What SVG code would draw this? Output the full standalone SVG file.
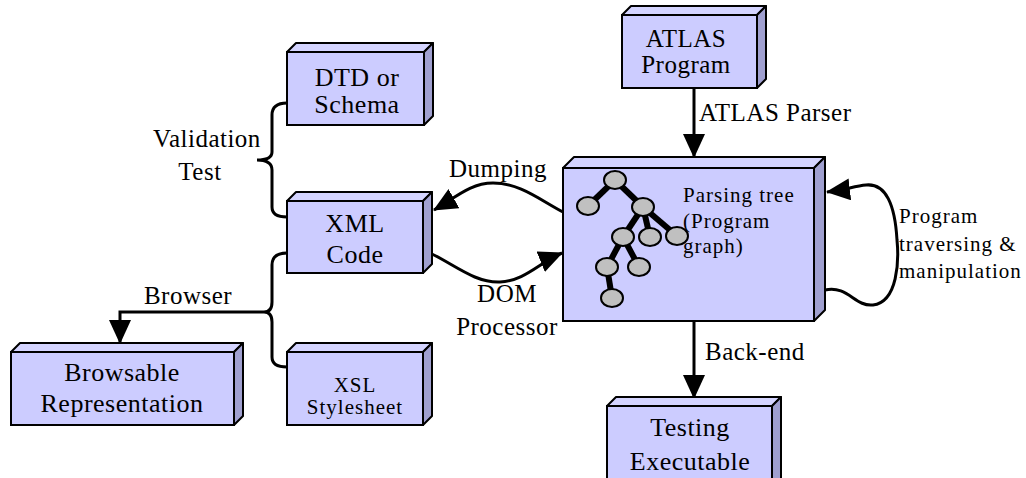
<svg xmlns="http://www.w3.org/2000/svg" width="1026" height="478" viewBox="0 0 1026 478">
<style>
.front{fill:#ccccff;stroke:#000;stroke-width:2}
.top{fill:#d4d4ff;stroke:#000;stroke-width:2;stroke-linejoin:round}
.side{fill:#a0a0d0;stroke:#000;stroke-width:2;stroke-linejoin:round}
.bt{font-size:26px;text-anchor:middle;letter-spacing:0.5px}
.lb{font-size:25px;letter-spacing:0.5px}
.sm{font-size:21px;letter-spacing:1px}
.conn{fill:none;stroke:#000;stroke-width:3}
.edge{stroke:#000;stroke-width:6;stroke-linecap:butt}
.tn{fill:#c0c0c0;stroke:#000;stroke-width:2}
</style>
<defs>
<marker id="ah" markerUnits="userSpaceOnUse" markerWidth="24" markerHeight="22" refX="23" refY="11" orient="auto">
<path d="M0,0 L24,11 L0,22 Z" fill="#000"/>
</marker>
</defs>
<rect width="1026" height="478" fill="#fff"/>

<g id="connectors">
<path class="conn" d="M287,103 C278,103 272,106 272,115 L272,152 C272,158 266,160 257,160 C266,160 272,163 272,170 L272,207 C272,214 278,217 287,217"/>
<path class="conn" d="M287,253 C278,253 272,256 272,265 L272,302 C272,308 270,312 264,312 C270,312 272,316 272,322 L272,357 C272,364 278,367 287,367"/>
<path class="conn" d="M264,312 L120,312 L120,343" marker-end="url(#ah)"/>
<path class="conn" d="M694,88 L694,157" marker-end="url(#ah)"/>
<path class="conn" d="M694,321 L694,398" marker-end="url(#ah)"/>
<path class="conn" d="M563,212 C540,200 520,183 493,183 C470,183 455,198 434,210" marker-end="url(#ah)"/>
<path class="conn" d="M430,253 C455,265 475,283 500,282 C525,281 540,262 562,253" marker-end="url(#ah)"/>
<path class="conn" d="M825,290 C848,285 855,307 873,305 C898,302 899,260 897,240 C895,205 886,183 866,185 C855,186 844,190 827,192" marker-end="url(#ah)"/>
</g>

<g font-family="Liberation Serif, Times New Roman, serif">
<g id="dtd">
<polygon class="top" points="287,52 296,43 433,43 424,52"/>
<polygon class="side" points="424,52 433,43 433,116 424,125"/>
<rect class="front" x="287" y="52" width="137" height="73"/>
<text class="bt" x="357" y="86">DTD or</text>
<text class="bt" x="357" y="113">Schema</text>
</g>

<g id="xml">
<polygon class="top" points="287,201 296,192 432,192 423,201"/>
<polygon class="side" points="423,201 432,192 432,264 423,273"/>
<rect class="front" x="287" y="201" width="136" height="72"/>
<text class="bt" x="355" y="232">XML</text>
<text class="bt" x="355" y="263">Code</text>
</g>

<g id="xsl">
<polygon class="top" points="287,352 296,343 432,343 423,352"/>
<polygon class="side" points="423,352 432,343 432,416 423,425"/>
<rect class="front" x="287" y="352" width="136" height="73"/>
<text x="355" y="392" font-size="21" text-anchor="middle" letter-spacing="1">XSL</text>
<text x="355" y="414" font-size="21" text-anchor="middle" letter-spacing="1">Stylesheet</text>
</g>

<g id="browsable">
<polygon class="top" points="11,352 20,343 243,343 234,352"/>
<polygon class="side" points="234,352 243,343 243,416 234,425"/>
<rect class="front" x="11" y="352" width="223" height="73"/>
<text class="bt" x="122" y="381">Browsable</text>
<text class="bt" x="122" y="412">Representation</text>
</g>

<g id="atlas">
<polygon class="top" points="622,15 631,6 766,6 757,15"/>
<polygon class="side" points="757,15 766,6 766,79 757,88"/>
<rect class="front" x="622" y="15" width="135" height="73"/>
<text x="686" y="47" font-size="25" text-anchor="middle" letter-spacing="0.5">ATLAS</text>
<text x="686" y="73" font-size="25" text-anchor="middle" letter-spacing="0.5">Program</text>
</g>

<g id="parsing">
<polygon class="top" points="563,168 574,157 825,157 814,168"/>
<polygon class="side" points="814,168 825,157 825,310 814,321"/>
<rect class="front" x="563" y="168" width="251" height="153"/>
<g>
<line class="edge" x1="615" y1="180" x2="588" y2="206"/>
<line class="edge" x1="615" y1="180" x2="643" y2="207"/>
<line class="edge" x1="643" y1="207" x2="623" y2="237"/>
<line class="edge" x1="643" y1="207" x2="650" y2="237"/>
<line class="edge" x1="643" y1="207" x2="677" y2="236"/>
<line class="edge" x1="623" y1="237" x2="607" y2="267"/>
<line class="edge" x1="623" y1="237" x2="639" y2="267"/>
<line class="edge" x1="607" y1="267" x2="612" y2="298"/>
<ellipse class="tn" cx="615" cy="180" rx="11" ry="9"/>
<ellipse class="tn" cx="588" cy="206" rx="11" ry="9"/>
<ellipse class="tn" cx="643" cy="207" rx="11" ry="9"/>
<ellipse class="tn" cx="623" cy="237" rx="11" ry="9"/>
<ellipse class="tn" cx="650" cy="237" rx="11" ry="9"/>
<ellipse class="tn" cx="677" cy="236" rx="11" ry="9"/>
<ellipse class="tn" cx="607" cy="267" rx="11" ry="9"/>
<ellipse class="tn" cx="639" cy="267" rx="11" ry="9"/>
<ellipse class="tn" cx="612" cy="298" rx="11" ry="9"/>
</g>
<text class="sm" x="683" y="202">Parsing tree</text>
<text class="sm" x="683" y="228">(Program</text>
<text class="sm" x="683" y="253">graph)</text>
</g>

<g id="testing">
<polygon class="top" points="607,406 616,397 781,397 772,406"/>
<polygon class="side" points="772,406 781,397 781,480 772,489"/>
<rect class="front" x="607" y="406" width="165" height="83"/>
<text class="bt" x="690" y="436">Testing</text>
<text class="bt" x="690" y="470">Executable</text>
</g>

<g id="labels">
<text class="lb" x="207" y="147" text-anchor="middle">Validation</text>
<text class="lb" x="200" y="180" text-anchor="middle">Test</text>
<text class="lb" x="188" y="304" text-anchor="middle">Browser</text>
<text class="lb" x="699" y="121">ATLAS Parser</text>
<text class="lb" x="449" y="177">Dumping</text>
<text class="lb" x="507" y="302" text-anchor="middle">DOM</text>
<text class="lb" x="507" y="335" text-anchor="middle">Processor</text>
<text class="lb" x="705" y="360">Back-end</text>
<text class="sm" x="899" y="223">Program</text>
<text class="sm" x="899" y="251">traversing &amp;</text>
<text class="sm" x="899" y="278">manipulation</text>
</g>
</g>
</svg>
